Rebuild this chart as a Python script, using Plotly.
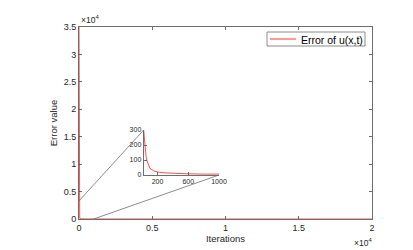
import plotly.graph_objects as go

# ---- data ----
iterations = [0, 5, 10, 20, 30, 40, 50, 60, 80, 100, 150, 200, 300, 400, 600, 800,
              1000, 2000, 5000, 10000, 15000, 20000]
error_u = [35000, 8000, 1500, 300, 220, 160, 125, 100, 65, 45, 28, 20, 14, 11, 8, 6,
           5, 3.5, 2, 1, 0.6, 0.4]
series_name = "Error of u(x,t)"

main_xticks = [0, 5000, 10000, 15000, 20000]
main_xticklabels = ["0", "0.5", "1", "1.5", "2"]
main_yticks = [0, 5000, 10000, 15000, 20000, 25000, 30000, 35000]
main_yticklabels = ["0", "0.5", "1", "1.5", "2", "2.5", "3", "3.5"]
inset_xticks = [200, 600, 1000]
inset_yticks = [0, 100, 200, 300]

main_xrange = [0, 20000]
main_yrange = [0, 35000]
inset_xrange = [20, 1000]
inset_yrange = [0, 300]
zoom_from_top = (0, 3300)     # main-data point linked to inset top-left
zoom_from_bottom = (1000, 0)  # main-data point linked to inset bottom-right

# page has an 8px body margin; work in page pixels and convert
OFF = 8
W, H = 413 - OFF, 250 - OFF


def px(x):
    return (x - OFF) / W


def py(y):
    return 1 - (y - OFF) / H


main_dom_x = [px(79), px(372)]
main_dom_y = [py(219), py(27)]
inset_dom_x = [px(143.7), px(219)]
inset_dom_y = [py(175), py(130)]

RED = "#ff0000"
AX = "#262626"
GRID = "#6e6e6e"
FONT = "Liberation Sans, Arial, sans-serif"

fig = go.Figure()
fig.add_trace(go.Scatter(x=iterations, y=error_u, mode="lines", name=series_name,
                         line=dict(color=RED, width=0.7), xaxis="x", yaxis="y"))
fig.add_trace(go.Scatter(x=iterations, y=error_u, mode="lines", showlegend=False,
                         line=dict(color=RED, width=0.7), xaxis="x2", yaxis="y2"))


def to_paper(x, y):
    ppx = main_dom_x[0] + (x - main_xrange[0]) / (main_xrange[1] - main_xrange[0]) * (main_dom_x[1] - main_dom_x[0])
    ppy = main_dom_y[0] + (y - main_yrange[0]) / (main_yrange[1] - main_yrange[0]) * (main_dom_y[1] - main_dom_y[0])
    return ppx, ppy


p1 = to_paper(*zoom_from_top)
p2 = to_paper(*zoom_from_bottom)
shapes = [
    dict(type="line", xref="paper", yref="paper", x0=p1[0], y0=p1[1],
         x1=inset_dom_x[0], y1=inset_dom_y[1], line=dict(color=GRID, width=0.8)),
    dict(type="line", xref="paper", yref="paper", x0=p2[0], y0=p2[1],
         x1=inset_dom_x[1], y1=inset_dom_y[0], line=dict(color=GRID, width=0.8)),
    # legend box and sample line
    dict(type="rect", xref="paper", yref="paper", x0=px(267), y0=py(46), x1=px(365), y1=py(32),
         line=dict(color=GRID, width=0.8), fillcolor="white"),
    dict(type="line", xref="paper", yref="paper", x0=px(270), y0=py(39), x1=px(296), y1=py(39),
         line=dict(color=RED, width=0.8)),
]


def axis_common(fs):
    return dict(showgrid=False, zeroline=False, showline=True, linecolor=GRID, linewidth=1,
                ticks="inside", ticklen=3, tickcolor=GRID, tickwidth=0.8, automargin=False,
                tickfont=dict(size=fs, color=AX, family=FONT), layer="below traces")


fig.update_layout(
    width=W, height=H,
    margin=dict(l=0, r=0, t=0, b=0),
    paper_bgcolor="white", plot_bgcolor="rgba(0,0,0,0)",
    font=dict(family=FONT, color=AX),
    xaxis=dict(domain=main_dom_x, range=main_xrange, tickvals=main_xticks, ticktext=main_xticklabels,
               mirror="ticks", anchor="y",
               title=dict(text="Iterations", font=dict(size=9.5, color=AX), standoff=2),
               **axis_common(9)),
    yaxis=dict(domain=main_dom_y, range=main_yrange, tickvals=main_yticks, ticktext=main_yticklabels,
               mirror="ticks", anchor="x",
               title=dict(text="Error value", font=dict(size=9.5, color=AX), standoff=4),
               **axis_common(9)),
    xaxis2=dict(domain=inset_dom_x, range=inset_xrange, tickvals=inset_xticks, anchor="y2",
                **axis_common(7)),
    yaxis2=dict(domain=inset_dom_y, range=inset_yrange, tickvals=inset_yticks, anchor="x2",
                **axis_common(7)),
    shapes=shapes,
    showlegend=False,
    annotations=[
        dict(xref="paper", yref="paper", x=px(298.5), y=py(39.5), xanchor="left", yanchor="middle",
             text=series_name, showarrow=False,
             font=dict(size=10.5, color="black", family=FONT)),
        dict(xref="paper", yref="paper", x=main_dom_x[0], y=main_dom_y[1], xanchor="left",
             yanchor="bottom", text="×10<sup>4</sup>", showarrow=False,
             font=dict(size=8.5, color=AX, family=FONT)),
        dict(xref="paper", yref="paper", x=px(374), y=py(235), xanchor="right",
             yanchor="top", text="×10<sup>4</sup>", showarrow=False,
             font=dict(size=8.5, color=AX, family=FONT)),
    ],
)

fig.write_html("out.html")
